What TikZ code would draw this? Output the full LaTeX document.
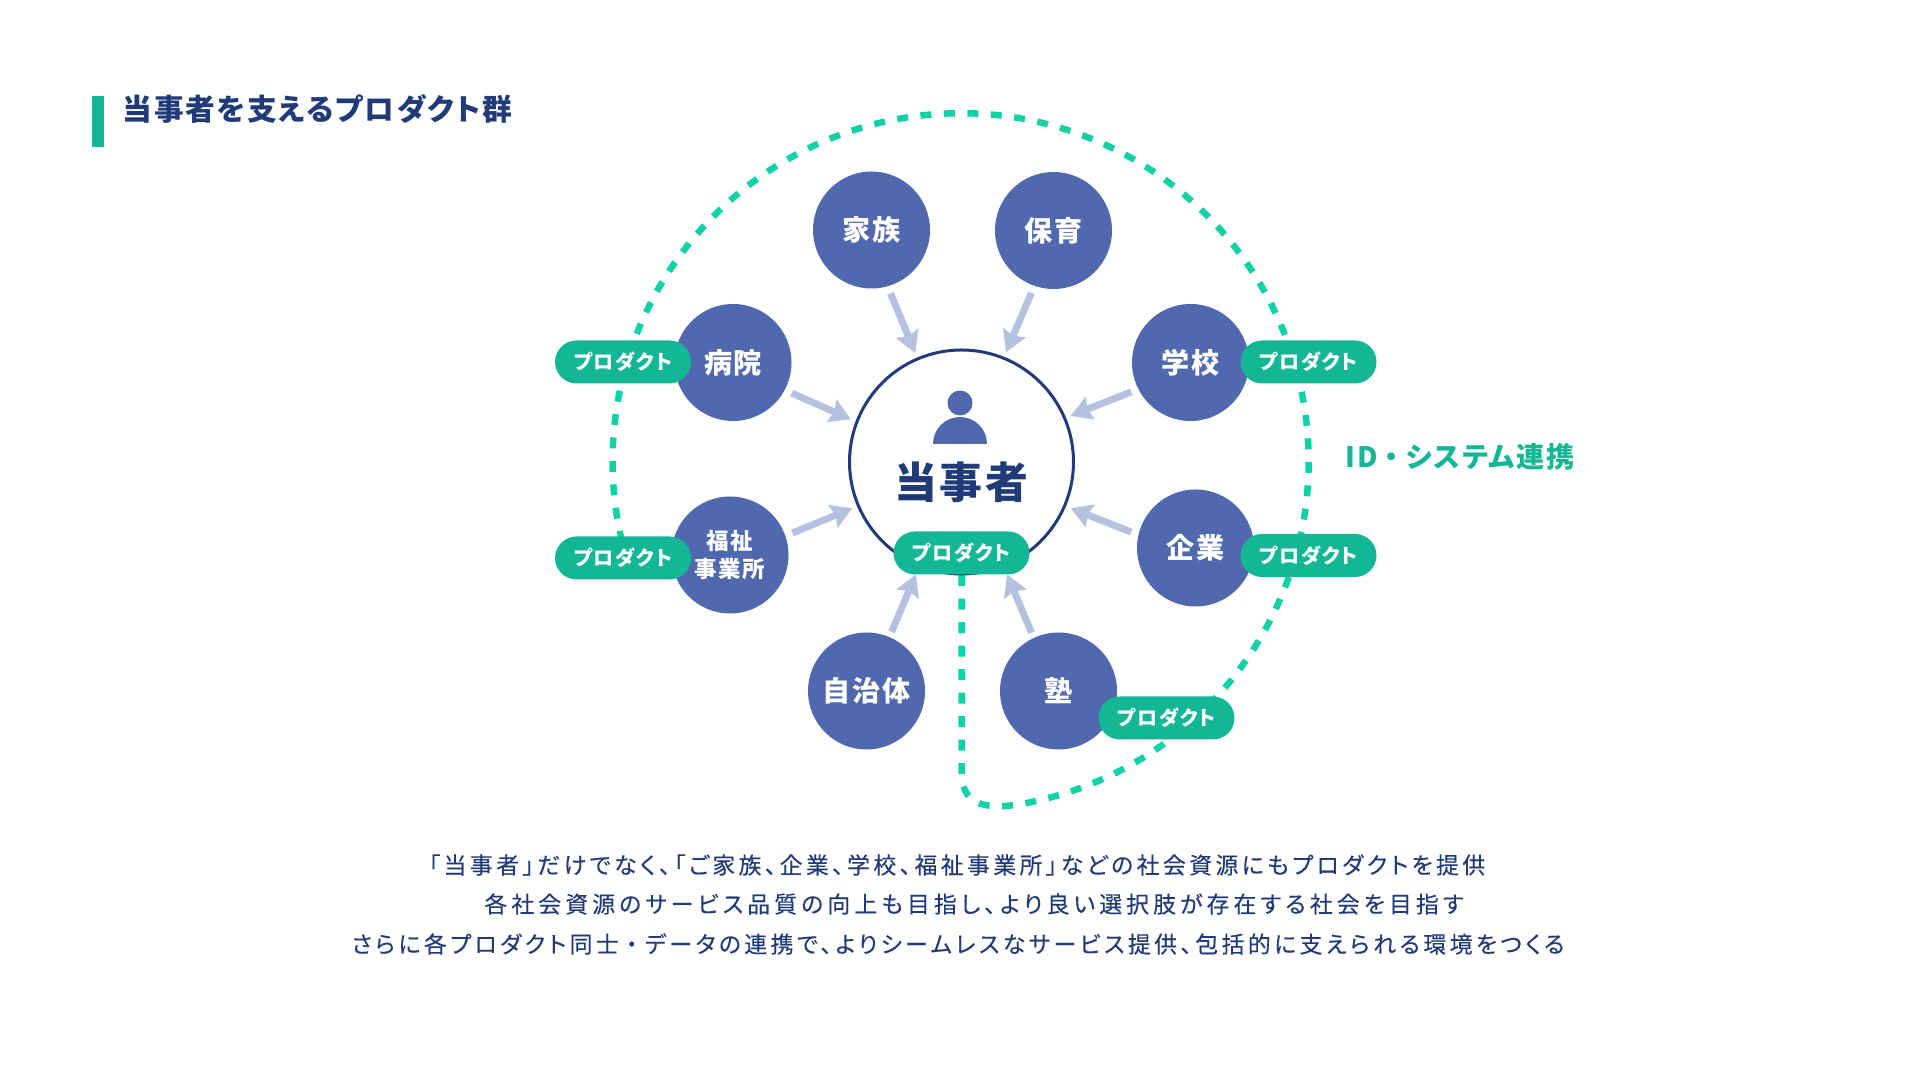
\documentclass[tikz,border=0pt]{standalone}
\usepackage{fontspec}
\setmainfont[RawFeature=+palt,LetterSpace=6]{Noto Sans CJK JP}
\newfontfamily\bodyfont[RawFeature=+palt,LetterSpace=15,FakeBold=0.25]{Noto Sans CJK JP}
\newfontfamily\bodywidefont[RawFeature=+palt,LetterSpace=18,FakeBold=0.25]{Noto Sans CJK JP}
\usepackage{tikz}
\usetikzlibrary{arrows.meta,backgrounds}
\definecolor{navytext}{HTML}{213A78}
\definecolor{peerblue}{HTML}{5068AE}
\definecolor{pillgreen}{HTML}{14B795}
\definecolor{dashgreen}{HTML}{10D2A6}
\definecolor{arrowblue}{HTML}{B4C2E0}
\tikzset{
	peer/.style={circle,fill=peerblue,text=white,font=\fontsize{8}{9}\selectfont\bfseries,minimum size=1.17cm,inner sep=0pt,align=center},
	pill/.style={rounded corners=0.215cm,fill=pillgreen,text=white,font=\fontsize{5.7}{6}\selectfont\bfseries,minimum width=1.36cm,minimum height=0.43cm,inner sep=0pt},
	linkarrow/.style={arrowblue,line width=0.07cm,-{Stealth[length=0.21cm,width=0.24cm,inset=0.03cm]},shorten <=0.07cm,shorten >=0.05cm},
	lowarrow/.style={linkarrow,shorten <=0.05cm,shorten >=0.08cm},
	bodyline/.style={text=navytext,font=\fontsize{6.5}{7}\bodyfont,inner sep=0pt}
}
\begin{document}
\begin{tikzpicture}
	
	\useasboundingbox (0,0) rectangle (19.2,10.8);
	
	\fill[pillgreen]
	(0.92,9.33) rectangle (1.04,9.84);
	
	\node[right,text=navytext,font=\fontsize{8.45}{10}\selectfont\bfseries,inner sep=0pt]
	(title)
	at (1.22,9.71)
	{当事者を支えるプロダクト群};
	
	\node[circle,draw=navytext,line width=0.03cm,fill=white,minimum size=2.24cm,inner sep=0pt]
	(tojisha)
	at (9.615,6.18)
	{};
	
	\fill[peerblue]
	(9.60,6.77) circle (0.125);
	
	\fill[peerblue]
	(9.33,6.36) arc (180:0:0.27) -- cycle;
	
	\node[text=navytext,font=\fontsize{12.2}{14}\selectfont\bfseries,inner sep=0pt]
	(tojishalabel)
	at (9.61,5.98)
	{当事者};
	
	\node[peer]
	(kazoku)
	at (8.715,8.50)
	{家族};
	
	\node[peer]
	(hoiku)
	at (10.535,8.495)
	{保育};
	
	\node[peer]
	(byoin)
	at (7.33,7.175)
	{病院};
	
	\node[peer]
	(gakko)
	at (11.905,7.175)
	{学校};
	
	\node[peer,font=\fontsize{6.4}{7.8}\selectfont\bfseries]
	(fukushi)
	at (7.30,5.25)
	{福祉\\事業所};
	
	\node[peer]
	(kigyo)
	at (11.955,5.32)
	{企業};
	
	\node[peer]
	(jichitai)
	at (8.665,3.89)
	{自治体};
	
	\node[peer]
	(juku)
	at (10.585,3.89)
	{塾};
	
	\draw[linkarrow] (kazoku.-74) -- (tojisha.113);
	\draw[linkarrow] (hoiku.-109) -- (tojisha.68);
	\draw[linkarrow] (byoin.-28) -- (tojisha.159);
	\draw[linkarrow] (gakko.-153) -- (tojisha.23);
	\draw[linkarrow] (fukushi.19) -- (tojisha.203);
	\draw[linkarrow] (kigyo.167) -- (tojisha.-23);
	\draw[lowarrow] (jichitai.67) -- (tojisha.-112);
	\draw[lowarrow] (juku.115) -- (tojisha.-68);
	
	\node[pill]
	(pillbyoin)
	at (6.23,7.18)
	{プロダクト};
	
	\node[pill]
	(pillfukushi)
	at (6.23,5.22)
	{プロダクト};
	
	\node[pill]
	(pillgakko)
	at (13.085,7.18)
	{プロダクト};
	
	\node[pill]
	(pillkigyo)
	at (13.085,5.245)
	{プロダクト};
	
	\node[pill]
	(pilltojisha)
	at (9.615,5.27)
	{プロダクト};
	
	\node[pill]
	(pilljuku)
	at (11.665,3.62)
	{プロダクト};
	
	\begin{pgfonlayer}{background}
		\draw[dashgreen,line width=0.065cm,dash pattern=on 0.11cm off 0.125cm]
		(pilltojisha) -- (9.615,3.05)
		.. controls (9.63,2.72) and (9.91,2.71) .. (10.21,2.76)
		arc [start angle=-80,end angle=193,radius=3.48]
		-- (pillfukushi);
	\end{pgfonlayer}
	
	\node[text=pillgreen,font=\fontsize{8}{10}\selectfont\bfseries,inner sep=0pt]
	(idlabel)
	at (14.60,6.23)
	{ID\hspace{0.26em}・\hspace{0.26em}システム連携};
	
	\node[bodyline]
	(lineone)
	at (9.57,2.15)
	{「当事者」だけでなく、「ご家族、企業、学校、福祉事業所」などの社会資源にもプロダクトを提供};
	
	\node[bodyline,font=\fontsize{6.5}{7}\bodywidefont]
	(linetwo)
	at (9.74,1.76)
	{各社会資源のサービス品質の向上も目指し、より良い選択肢が存在する社会を目指す};
	
	\node[bodyline]
	(linethree)
	at (9.58,1.36)
	{さらに各プロダクト同士\hspace{0.32em}・\hspace{0.32em}データの連携で、よりシームレスなサービス提供、包括的に支えられる環境をつくる};
	
\end{tikzpicture}
\end{document}
